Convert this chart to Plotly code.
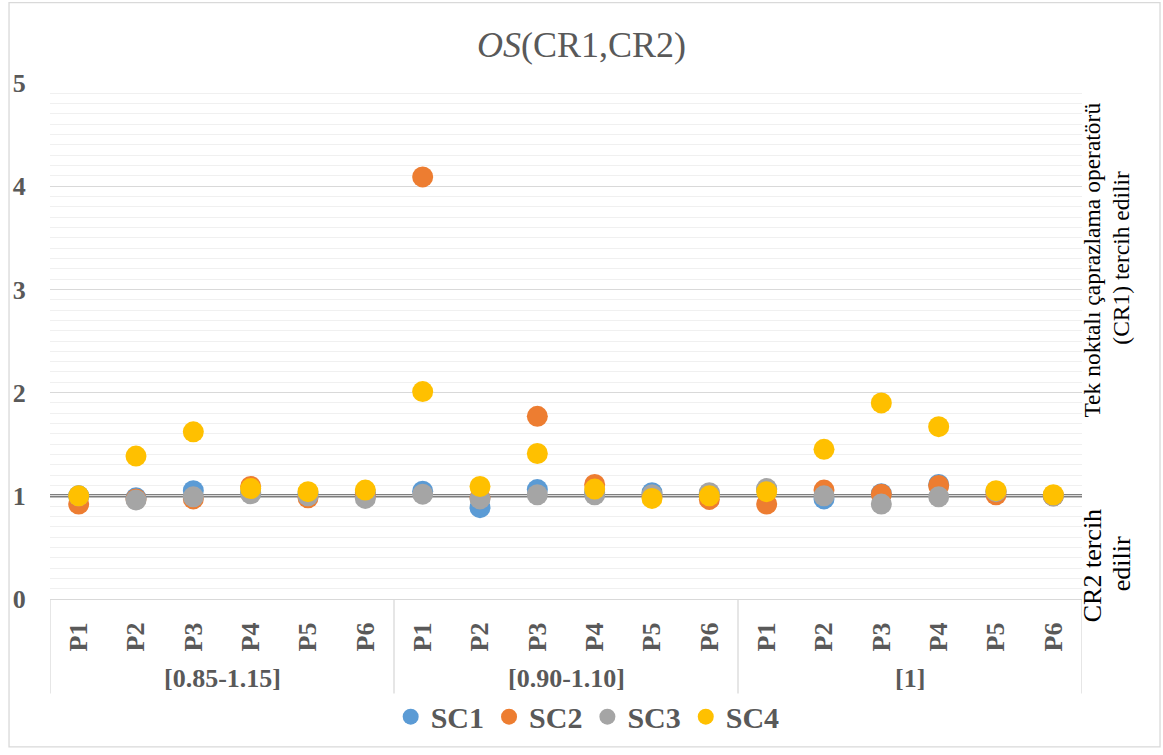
import plotly.graph_objects as go

categories = ["P1", "P2", "P3", "P4", "P5", "P6"] * 3
groups = ["[0.85-1.15]", "[0.90-1.10]", "[1]"]
SC1 = [1.00, 0.98, 1.05, 1.03, 1.02, 1.03, 1.045, 0.885, 1.06, 1.03, 1.03, 1.02, 1.06, 0.97, 1.02, 1.11, 1.04, 1.00]
SC2 = [0.92, 0.97, 0.97, 1.09, 0.98, 1.00, 4.09, 0.98, 1.77, 1.11, 1.00, 0.965, 0.92, 1.055, 1.015, 1.10, 1.01, 1.00]
SC3 = [1.00, 0.96, 0.99, 1.02, 1.00, 0.975, 1.016, 0.97, 1.01, 1.01, 1.01, 1.03, 1.07, 1.00, 0.92, 0.99, 1.04, 1.00]
SC4 = [1.00, 1.385, 1.62, 1.07, 1.04, 1.055, 2.01, 1.09, 1.41, 1.065, 0.975, 1.00, 1.04, 1.45, 1.90, 1.67, 1.05, 1.01]
series_names = ["SC1", "SC2", "SC3", "SC4"]
colors = ["#5B9BD5", "#ED7D31", "#A5A5A5", "#FFC000"]
y_ticks = [0, 1, 2, 3, 4, 5]
ref_value = 1

FONT = "Liberation Serif"
GRAY = "#595959"

xpos = [i + 0.5 for i in range(len(categories))]

fig = go.Figure()
for name, vals, col in zip(series_names, [SC1, SC2, SC3, SC4], colors):
    fig.add_trace(go.Scatter(
        x=xpos, y=vals, mode="markers", name="<b>" + name + "</b>",
        marker=dict(size=21, color=col, line=dict(width=0)),
    ))

shapes = []
shapes.append(dict(type="line", xref="paper", yref="y", x0=0, x1=1, y0=ref_value, y1=ref_value,
                   line=dict(color="#7F7F7F", width=3.5), layer="below"))
n_per = 6
for k in range(len(groups) + 1):
    shapes.append(dict(type="line", xref="x", yref="paper", x0=k * n_per, x1=k * n_per,
                       y0=0, y1=-0.183, line=dict(color="#D9D9D9", width=1.3)))
shapes.append(dict(type="rect", xref="paper", yref="paper", x0=-0.0397, x1=1.0756,
                   y0=-0.2865, y1=1.1558, line=dict(color="#D9D9D9", width=1.3)))

annotations = []
for k, g in enumerate(groups):
    annotations.append(dict(x=k * n_per + n_per / 2, xref="x", y=-0.1538, yref="paper",
                            text="<b>" + g + "</b>", showarrow=False,
                            font=dict(family=FONT, size=26, color=GRAY),
                            xanchor="center", yanchor="middle"))

side_texts = [
    ("Tek noktalı çaprazlama operatörü", 1092, 262, 23.5),
    ("(CR1) tercih edilir", 1121, 259, 23.5),
    ("CR2 tercih", 1092, 570, 26),
    ("edilir", 1121, 568, 26),
]
for txt, px, py, fs in side_texts:
    annotations.append(dict(x=(px - 50) / 1032, xref="paper", y=(603 - py) / 520, yref="paper",
                            text=txt, textangle=-90, showarrow=False,
                            font=dict(family=FONT, size=fs, color="#000000"),
                            xanchor="center", yanchor="middle"))

fig.update_layout(
    width=1163, height=755,
    margin=dict(l=50, r=81, t=83, b=152),
    paper_bgcolor="white", plot_bgcolor="white",
    font=dict(family=FONT),
    title=dict(text="<i>OS</i>(CR1,CR2)", x=0.5, xref="container", y=1 - 44 / 755,
               yref="container", xanchor="center", yanchor="middle",
               font=dict(family=FONT, size=36, color=GRAY)),
    xaxis=dict(range=[0, 18], tickvals=xpos, ticktext=["<b>" + c + "</b>" for c in categories],
               tickangle=-90, showgrid=False, zeroline=False, showline=True,
               linecolor="#D9D9D9", linewidth=1.3, ticks="outside", ticklen=12,
               tickcolor="rgba(0,0,0,0)",
               tickfont=dict(family=FONT, size=26, color=GRAY)),
    yaxis=dict(range=[0, 5], tickvals=y_ticks, ticktext=["<b>%d</b>" % v for v in y_ticks],
               showgrid=True, gridcolor="#D9D9D9", gridwidth=1.3, zeroline=False,
               ticks="outside", ticklen=18, tickcolor="rgba(0,0,0,0)",
               tickfont=dict(family=FONT, size=26, color=GRAY),
               minor=dict(dtick=0.1, showgrid=True, gridcolor="#F0F0F0", gridwidth=1.3)),
    legend=dict(orientation="h", x=0.521, xanchor="center", y=-0.228, yanchor="middle",
                font=dict(family=FONT, size=30, color=GRAY),
                bgcolor="rgba(0,0,0,0)", traceorder="normal"),
    shapes=shapes, annotations=annotations,
    showlegend=True,
)

fig.write_html("out.html")
